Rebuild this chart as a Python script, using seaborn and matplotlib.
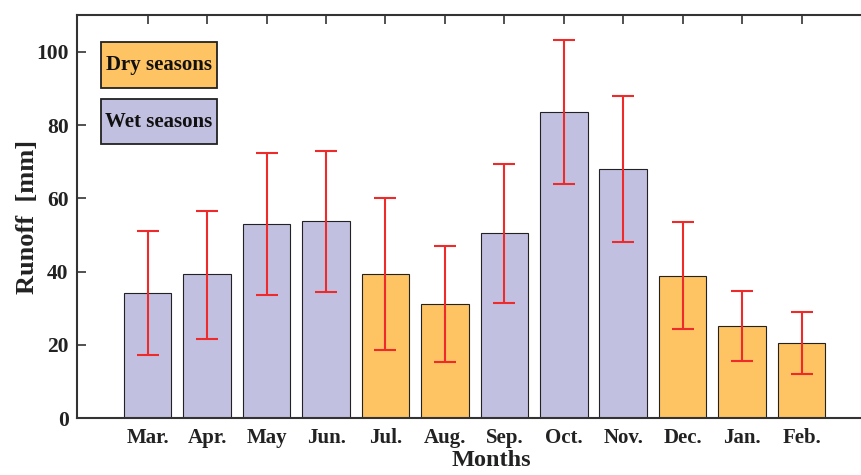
import matplotlib
matplotlib.use("Agg")
import matplotlib.pyplot as plt
from matplotlib.patches import Rectangle
import seaborn as sns
import pandas as pd
import numpy as np

months = ["Mar.", "Apr.", "May", "Jun.", "Jul.", "Aug.", "Sep.", "Oct.", "Nov.", "Dec.", "Jan.", "Feb."]
runoff = [34.2, 39.2, 52.9, 53.8, 39.2, 31.2, 50.4, 83.5, 67.9, 38.9, 25.2, 20.6]
err_low = [17.3, 21.6, 33.5, 34.5, 18.6, 15.2, 31.4, 64.0, 48.2, 24.2, 15.7, 12.1]
err_high = [51.0, 56.4, 72.3, 73.0, 60.0, 47.1, 69.3, 103.3, 87.9, 53.6, 34.8, 29.0]
season = ["Wet seasons", "Wet seasons", "Wet seasons", "Wet seasons", "Dry seasons", "Dry seasons",
          "Wet seasons", "Wet seasons", "Wet seasons", "Dry seasons", "Dry seasons", "Dry seasons"]
yticks = [0, 20, 40, 60, 80, 100]

dry_color = "#FEC362"
wet_color = "#C2C0E0"
err_color = "#EE2A2A"
spine_color = "#333333"

sns.set_style("white")
plt.rcParams["font.family"] = ["Liberation Serif", "DejaVu Serif"]
plt.rcParams["font.weight"] = "bold"

df = pd.DataFrame({"Month": months, "Runoff": runoff, "Season": season})

fig = plt.figure(figsize=(8.61, 4.75), dpi=100)
ax = fig.add_axes([0.0894, 0.12, 0.9106, 0.848])

sns.barplot(data=df, x="Month", y="Runoff", hue="Season", order=months,
            palette={"Dry seasons": dry_color, "Wet seasons": wet_color},
            dodge=False, width=0.8, edgecolor="#222222", linewidth=0.8,
            saturation=1, legend=False, ax=ax)

xs = np.arange(len(months))
vals = np.array(runoff)
lower = vals - np.array(err_low)
upper = np.array(err_high) - vals
ax.errorbar(xs, vals, yerr=[lower, upper], fmt="none", ecolor=err_color,
            elinewidth=1.5, capsize=8, capthick=1.5, zorder=5)

ax.set_xlim(-1.19, 12.0)
ax.set_ylim(0, 110)
ax.set_yticks(yticks)
ax.set_xticks(xs)
ax.set_xticklabels(months, fontsize=15, fontweight="bold", color="#222222")
ax.set_yticklabels([str(v) for v in yticks], fontsize=15.5, fontweight="bold", color="#222222")
ax.tick_params(axis="both", direction="in", length=6.5, width=1.2, color=spine_color,
               top=True, bottom=True, left=True, right=False)
ax.tick_params(axis="y", pad=6)
ax.tick_params(axis="x", pad=7.5)

for side in ["left", "bottom", "top"]:
    ax.spines[side].set_visible(True)
    ax.spines[side].set_color(spine_color)
    ax.spines[side].set_linewidth(1.5)
ax.spines["right"].set_visible(False)

ax.set_xlabel("Months", fontsize=17.5, fontweight="bold", color="#222222")
ax.xaxis.set_label_coords(0.528, -0.0805)
ax.set_ylabel("Runoff  [mm]", fontsize=19, fontweight="bold", color="#222222")
ax.yaxis.set_label_coords(-0.049, 0.5)

boxes = [("Dry seasons", dry_color, 0.819, 0.933), ("Wet seasons", wet_color, 0.680, 0.7916)]
for label, color, y0, y1 in boxes:
    ax.add_patch(Rectangle((0.0306, y0), 0.148, y1 - y0, transform=ax.transAxes,
                           facecolor=color, edgecolor="#222222", linewidth=1.3, zorder=6))
    ax.text(0.0306 + 0.074, (y0 + y1) / 2, label, transform=ax.transAxes, fontsize=15,
            fontweight="bold", va="center", ha="center", color="#111111", zorder=7)

fig.savefig("out.png", dpi=100)
